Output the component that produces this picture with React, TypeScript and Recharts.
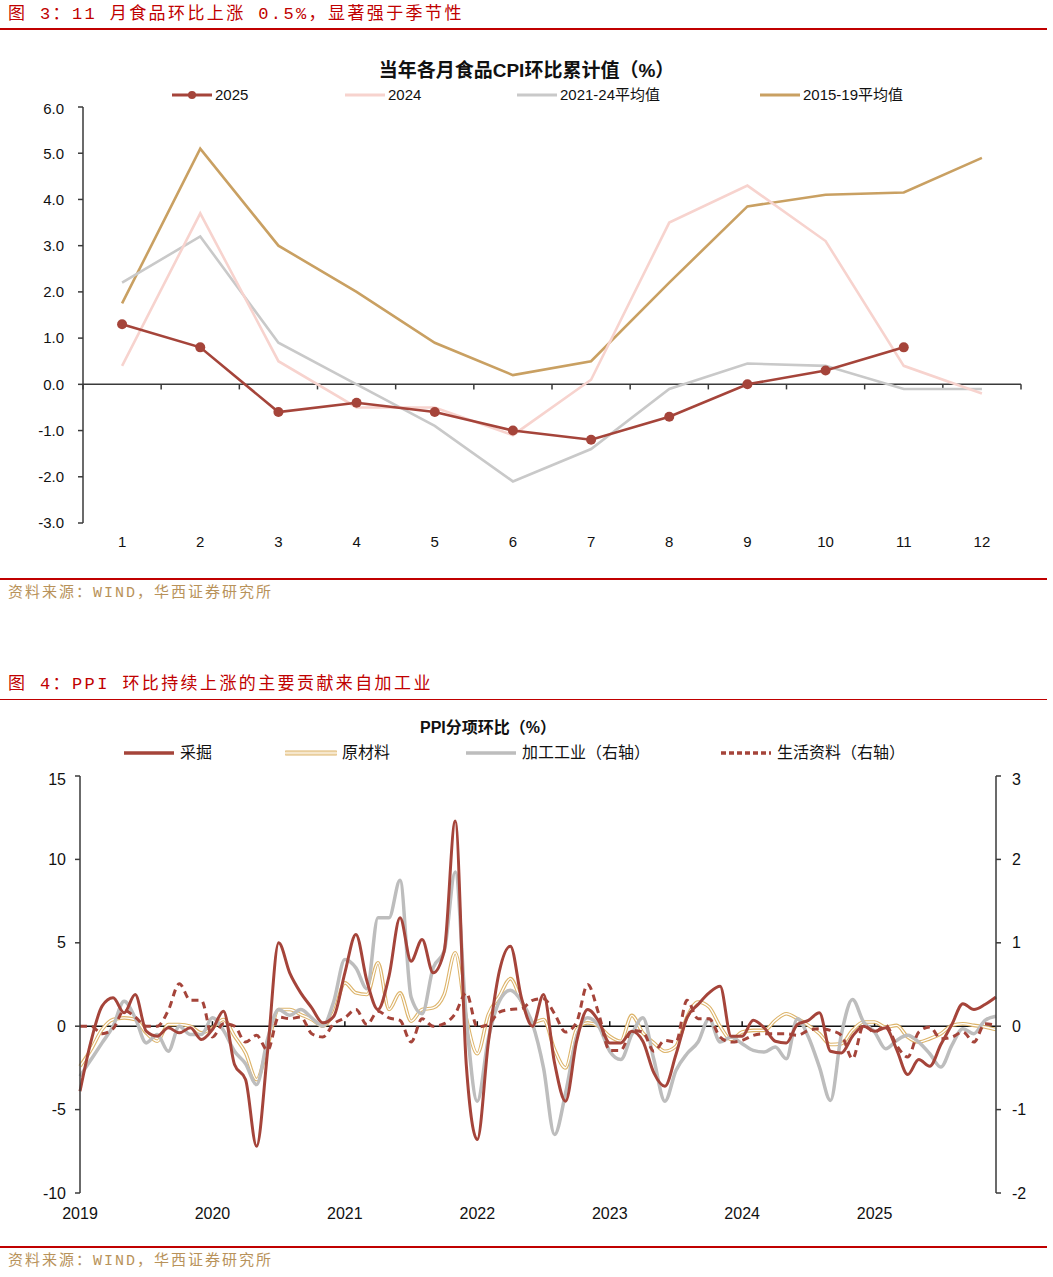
import React from "react";
import { LineChart, Line, XAxis, YAxis, ReferenceLine } from "recharts";

// 图3: 当年各月食品CPI环比累计值
const MONTHS = [1, 2, 3, 4, 5, 6, 7, 8, 9, 10, 11, 12];
const CPI_2025 = [1.3, 0.8, -0.6, -0.4, -0.6, -1.0, -1.2, -0.7, 0.0, 0.3, 0.8];
const CPI_2024 = [0.4, 3.7, 0.5, -0.5, -0.5, -1.1, 0.1, 3.5, 4.3, 3.1, 0.4, -0.2];
const CPI_AVG_2124 = [2.2, 3.2, 0.9, 0.0, -0.9, -2.1, -1.4, -0.1, 0.45, 0.4, -0.1, -0.1];
const CPI_AVG_1519 = [1.75, 5.1, 3.0, 2.0, 0.9, 0.2, 0.5, 2.2, 3.85, 4.1, 4.15, 4.9];
const CPI_TICKS = [-3, -2, -1, 0, 1, 2, 3, 4, 5, 6];

// 图4: PPI分项环比, monthly from 2018-12 to 2025-11
const YEAR_LABELS = ["2019", "2020", "2021", "2022", "2023", "2024", "2025"];
const MINING = [
  -3.9, -0.9, 1.2, 1.7, 0.8, 1.9, -0.3, -0.6, -0.1, -0.4, -0.1, -0.8,
  -0.2, 0.9, -2.3, -3.2, -7.2, -1.5, 5.0, 3.2, 2.0, 1.1, 0.2, 0.6,
  3.2, 5.5, 2.7, 1.0, 3.0, 6.5, 3.9, 5.2, 3.2, 4.5, 12.3, -2.3,
  -6.8, -1.0, 3.3, 4.8, 1.7, 0.0, 1.9, -2.2, -4.5, -0.9, 1.0, 0.3,
  -1.0, -1.0, -0.3, -0.9, -2.8, -3.6, -1.7, 0.5, 1.3, 2.0, 2.4, -0.6,
  -0.6, 0.35, -0.1, -0.9, -1.0, 0.1, 0.35, 0.8, -1.5, -1.6, -0.6, 0.0,
  -0.3, -0.1, -1.4, -2.9, -2.0, -2.4, -1.1, 0.1, 1.35, 1.0, 1.3, 1.75,
];
const RAW_MATERIAL = [
  -2.4, -1.4, -0.2, 0.4, 0.5, 0.4, -0.4, -0.9, 0.1, 0.1, 0.0, -0.4,
  -0.1, 0.4, -0.6, -1.6, -3.2, -1.2, 1.0, 1.0, 0.7, 0.4, 0.0, 0.8,
  2.6, 2.0, 1.9, 3.8, 1.0, 2.0, 0.3, 1.0, 1.1, 1.9, 4.4, 0.5,
  -1.65, 0.7, 1.8, 2.85, 1.5, 0.2, 0.4, -1.4, -2.5, -0.2, 0.2, 0.0,
  -0.6, -0.9, 0.65, -0.4, -1.0, -1.5, -1.2, 0.55, 1.45, 1.15, 0.0, -0.8,
  -0.35, -0.25, -0.25, 0.35, 0.75, 0.45, 0.05, -0.45, -1.1, -1.05, -0.25, 0.25,
  0.25, -0.05, 0.05, -0.65, -0.95, -0.75, -0.45, 0.05, 0.15, 0.05, -0.05, -0.2,
];
const PROCESSING = [
  -0.6, -0.4, -0.2, 0.0, 0.3, 0.1, -0.2, -0.1, -0.3, 0.0, -0.1, -0.1,
  0.1, -0.05, -0.3, -0.45, -0.7, -0.15, 0.2, 0.13, 0.2, 0.1, 0.0, 0.3,
  0.8, 0.7, 0.45, 1.3, 1.3, 1.75, 0.35, 0.15, 0.7, 0.9, 1.85, 0.1,
  -0.9, -0.15, 0.3, 0.43, 0.3, 0.03, -0.5, -1.3, -0.8, -0.13, 0.1, 0.0,
  -0.3, -0.4, -0.1, 0.1, -0.4, -0.9, -0.53, -0.33, -0.19, 0.09, -0.19, -0.13,
  -0.21, -0.29, -0.31, -0.25, -0.39, 0.09, -0.13, -0.49, -0.89, -0.09, 0.32, 0.05,
  -0.07, -0.27, -0.17, -0.11, -0.19, -0.33, -0.49, -0.23, -0.03, -0.09, 0.07, 0.12,
];
const LIVING = [
  0.0, 0.0, -0.09, -0.03, 0.19, 0.11, 0.0, 0.0, 0.19, 0.51, 0.31, 0.31,
  -0.13, 0.03, 0.0, -0.19, -0.11, -0.29, 0.11, 0.09, 0.11, -0.09, -0.13, 0.03,
  0.1, 0.2, 0.02, 0.18, 0.1, 0.07, -0.19, 0.09, 0.0, 0.03, 0.15, 0.4,
  -0.01, 0.02, 0.17, 0.2, 0.21, 0.31, 0.33, 0.15, -0.07, 0.05, 0.5, 0.15,
  -0.29, -0.29, -0.05, -0.07, -0.3, -0.17, -0.19, 0.31, 0.09, 0.09, -0.13, -0.19,
  -0.17, -0.11, -0.09, -0.09, -0.09, -0.11, -0.05, -0.03, -0.05, -0.11, -0.39, 0.01,
  -0.07, 0.01, -0.23, -0.37, -0.07, -0.01, -0.15, -0.13, -0.07, -0.19, 0.03, 0.01,
];
const PPI_LEFT_TICKS = [-10, -5, 0, 5, 10, 15];
const PPI_RIGHT_TICKS = [-2, -1, 0, 1, 2, 3];

const RED = "#A5443A";
const HEAD_RED = "#C00000";
const SOURCE = "#B8925A";
const AXIS = "#3a3a3a";
const HEAD_FONT = '"Liberation Mono", "Noto Sans CJK SC", monospace';
const SANS = '"Liberation Sans", "Noto Sans CJK SC", Arial, sans-serif';

const CPI_SERIES = [
  { key: "y2025", name: "2025", color: RED, values: CPI_2025, dot: true },
  { key: "y2024", name: "2024", color: "#F7D3CE", values: CPI_2024, dot: false },
  { key: "a2124", name: "2021-24平均值", color: "#C9C9C9", values: CPI_AVG_2124, dot: false },
  { key: "a1519", name: "2015-19平均值", color: "#C9A062", values: CPI_AVG_1519, dot: false },
];
// legend slot widths, left to right
const CPI_LEGEND_SLOTS = [173, 172, 243, 160];

const cpiData = MONTHS.map((m, i) => {
  const row: Record<string, number | null> = { m };
  CPI_SERIES.forEach((s) => {
    row[s.key] = i < s.values.length ? s.values[i] : null;
  });
  return row;
});

const ppiData = MINING.map((v, i) => ({
  i,
  mining: v,
  raw: RAW_MATERIAL[i],
  proc: PROCESSING[i],
  living: LIVING[i],
}));

// category boundaries on the CPI zero axis, year ticks on the PPI zero axis
const CPI_BOUNDS = [0, ...MONTHS].map((m) => m + 0.5);
const YEAR_POS = YEAR_LABELS.map((_, k) => k * 12);

function Heading({ top, text }: { top: number; text: string }) {
  return (
    <div
      style={{
        position: "absolute",
        top,
        left: 8,
        fontFamily: HEAD_FONT,
        fontSize: 17,
        letterSpacing: 2.4,
        color: HEAD_RED,
        lineHeight: "22px",
        whiteSpace: "nowrap",
      }}
    >
      {text}
    </div>
  );
}

function Rule({ top, h = 2 }: { top: number; h?: number }) {
  return (
    <div
      style={{ position: "absolute", top, left: 0, width: 1047, height: h, background: HEAD_RED }}
    />
  );
}

function Source({ top }: { top: number }) {
  return (
    <div
      style={{
        position: "absolute",
        top,
        left: 8,
        fontFamily: HEAD_FONT,
        fontSize: 15,
        letterSpacing: 2,
        color: SOURCE,
        lineHeight: "20px",
        whiteSpace: "nowrap",
      }}
    >
      资料来源：WIND，华西证券研究所
    </div>
  );
}

function Swatch({ kind, color }: { kind: string; color: string }) {
  return (
    <svg width={52} height={10} style={{ display: "block", marginRight: 5 }}>
      {kind === "double" ? (
        <>
          <line x1={1} y1={5} x2={51} y2={5} stroke="#DDB46A" strokeWidth={5} strokeLinecap="round" />
          <line x1={1} y1={5} x2={51} y2={5} stroke="#F6E7CD" strokeWidth={3} strokeLinecap="round" />
        </>
      ) : (
        <line
          x1={1}
          y1={5}
          x2={51}
          y2={5}
          stroke={color}
          strokeWidth={3.5}
          strokeDasharray={kind === "dash" ? "5 3" : undefined}
        />
      )}
    </svg>
  );
}

const PPI_LEGEND = [
  { name: "采掘", kind: "solid", color: RED },
  { name: "原材料", kind: "double", color: "#DDB46A" },
  { name: "加工工业（右轴）", kind: "solid", color: "#BDBDBD" },
  { name: "生活资料（右轴）", kind: "dash", color: RED },
];
const PPI_LEGEND_SLOTS = [162, 180, 255, 220];

export default function App() {
  return (
    <div
      style={{
        position: "absolute",
        top: 0,
        left: 0,
        width: 1053,
        height: 1277,
        background: "#fff",
        overflow: "hidden",
        fontFamily: SANS,
      }}
    >
      <Heading top={4} text="图 3：11 月食品环比上涨 0.5%，显著强于季节性" />
      <Rule top={28} />

      <div
        style={{
          position: "absolute",
          top: 59,
          left: 0,
          width: 1053,
          textAlign: "center",
          fontSize: 19,
          fontWeight: 700,
          lineHeight: "24px",
          color: "#111",
        }}
      >
        当年各月食品CPI环比累计值（%）
      </div>
      <div
        style={{
          position: "absolute",
          top: 85,
          left: 172,
          display: "flex",
          fontSize: 15,
          lineHeight: "20px",
          color: "#111",
        }}
      >
        {CPI_SERIES.map((s, k) => (
          <div
            key={s.key}
            style={{ display: "flex", alignItems: "center", width: CPI_LEGEND_SLOTS[k] }}
          >
            <svg width={40} height={10} style={{ display: "block", marginRight: 3 }}>
              <line x1={0} y1={5} x2={40} y2={5} stroke={s.color} strokeWidth={3} />
              {s.dot && <circle cx={20} cy={5} r={4} fill={s.color} />}
            </svg>
            <span>{s.name}</span>
          </div>
        ))}
      </div>

      <div style={{ position: "absolute", top: 100, left: 0 }}>
        <LineChart
          width={1053}
          height={470}
          data={cpiData}
          margin={{ top: 7, right: 32, bottom: 17, left: 33 }}
        >
          <XAxis
            dataKey="m"
            type="number"
            domain={[0.5, 12.5]}
            ticks={MONTHS}
            axisLine={false}
            tickLine={false}
            tickMargin={7}
            height={30}
            tick={{ fill: "#111", fontSize: 15 }}
          />
          <YAxis
            type="number"
            domain={[-3, 6]}
            ticks={CPI_TICKS}
            width={50}
            tickFormatter={(v: number) => v.toFixed(1)}
            axisLine={{ stroke: AXIS, strokeWidth: 1.5 }}
            tickLine={{ stroke: AXIS, strokeWidth: 1.5 }}
            tickSize={5}
            tickMargin={14}
            tick={{ fill: "#111", fontSize: 15 }}
          />
          <ReferenceLine y={0} stroke={AXIS} strokeWidth={1.5} />
          {CPI_BOUNDS.map((b) => (
            <ReferenceLine
              key={b}
              segment={[
                { x: b, y: 0 },
                { x: b, y: -0.11 },
              ]}
              stroke={AXIS}
              strokeWidth={1.5}
            />
          ))}
          {[...CPI_SERIES].reverse().map((s) => (
            <Line
              key={s.key}
              dataKey={s.key}
              type="linear"
              stroke={s.color}
              strokeWidth={2.6}
              dot={s.dot ? { r: 5, fill: s.color, stroke: "none" } : false}
              activeDot={false}
              isAnimationActive={false}
            />
          ))}
        </LineChart>
      </div>

      <Rule top={578} />
      <Source top={584} />

      <Heading top={674} text="图 4：PPI 环比持续上涨的主要贡献来自加工业" />
      <Rule top={699} h={1} />

      <div
        style={{
          position: "absolute",
          top: 717,
          left: 0,
          width: 976,
          textAlign: "center",
          fontSize: 16,
          fontWeight: 700,
          lineHeight: "22px",
          color: "#111",
        }}
      >
        PPI分项环比（%）
      </div>
      <div
        style={{
          position: "absolute",
          top: 743,
          left: 123,
          display: "flex",
          fontSize: 16,
          lineHeight: "20px",
          color: "#111",
        }}
      >
        {PPI_LEGEND.map((s, k) => (
          <div
            key={s.name}
            style={{ display: "flex", alignItems: "center", width: PPI_LEGEND_SLOTS[k] }}
          >
            <Swatch kind={s.kind} color={s.color} />
            <span>{s.name}</span>
          </div>
        ))}
      </div>

      <div style={{ position: "absolute", top: 770, left: 0 }}>
        <LineChart
          width={1053}
          height={470}
          data={ppiData}
          margin={{ top: 6, right: 7, bottom: 17, left: 30 }}
        >
          <XAxis
            dataKey="i"
            type="number"
            domain={[0, 83]}
            ticks={YEAR_POS}
            tickFormatter={(v: number) => YEAR_LABELS[Math.round(v / 12)]}
            axisLine={false}
            tickLine={false}
            tickMargin={9}
            height={30}
            tick={{ fill: "#111", fontSize: 16 }}
          />
          <YAxis
            yAxisId="left"
            type="number"
            domain={[-10, 15]}
            ticks={PPI_LEFT_TICKS}
            width={50}
            axisLine={{ stroke: AXIS, strokeWidth: 1.5 }}
            tickLine={{ stroke: AXIS, strokeWidth: 1.5 }}
            tickSize={5}
            tickMargin={9}
            tick={{ fill: "#111", fontSize: 16 }}
          />
          <YAxis
            yAxisId="right"
            orientation="right"
            type="number"
            domain={[-2, 3]}
            ticks={PPI_RIGHT_TICKS}
            width={50}
            axisLine={{ stroke: AXIS, strokeWidth: 1.5 }}
            tickLine={{ stroke: AXIS, strokeWidth: 1.5 }}
            tickSize={5}
            tickMargin={11}
            tick={{ fill: "#111", fontSize: 16, textAnchor: "start" }}
          />
          <ReferenceLine yAxisId="left" y={0} stroke="#111" strokeWidth={1.5} />
          {YEAR_POS.slice(1).map((p) => (
            <ReferenceLine
              key={p}
              yAxisId="left"
              segment={[
                { x: p, y: 0 },
                { x: p, y: 0.3 },
              ]}
              stroke="#111"
              strokeWidth={1.5}
            />
          ))}
          <Line
            yAxisId="left"
            dataKey="raw"
            type="monotone"
            stroke="#DDB46A"
            strokeWidth={3.6}
            dot={false}
            activeDot={false}
            isAnimationActive={false}
          />
          <Line
            yAxisId="left"
            dataKey="raw"
            type="monotone"
            stroke="#FFFFFF"
            strokeWidth={1.4}
            dot={false}
            activeDot={false}
            legendType="none"
            isAnimationActive={false}
          />
          <Line
            yAxisId="right"
            dataKey="proc"
            type="monotone"
            stroke="#BDBDBD"
            strokeWidth={3.5}
            dot={false}
            activeDot={false}
            isAnimationActive={false}
          />
          <Line
            yAxisId="right"
            dataKey="living"
            type="monotone"
            stroke={RED}
            strokeWidth={3}
            strokeDasharray="7 5"
            dot={false}
            activeDot={false}
            isAnimationActive={false}
          />
          <Line
            yAxisId="left"
            dataKey="mining"
            type="monotone"
            stroke={RED}
            strokeWidth={3}
            dot={false}
            activeDot={false}
            isAnimationActive={false}
          />
        </LineChart>
      </div>

      <Rule top={1246} />
      <Source top={1252} />
    </div>
  );
}
